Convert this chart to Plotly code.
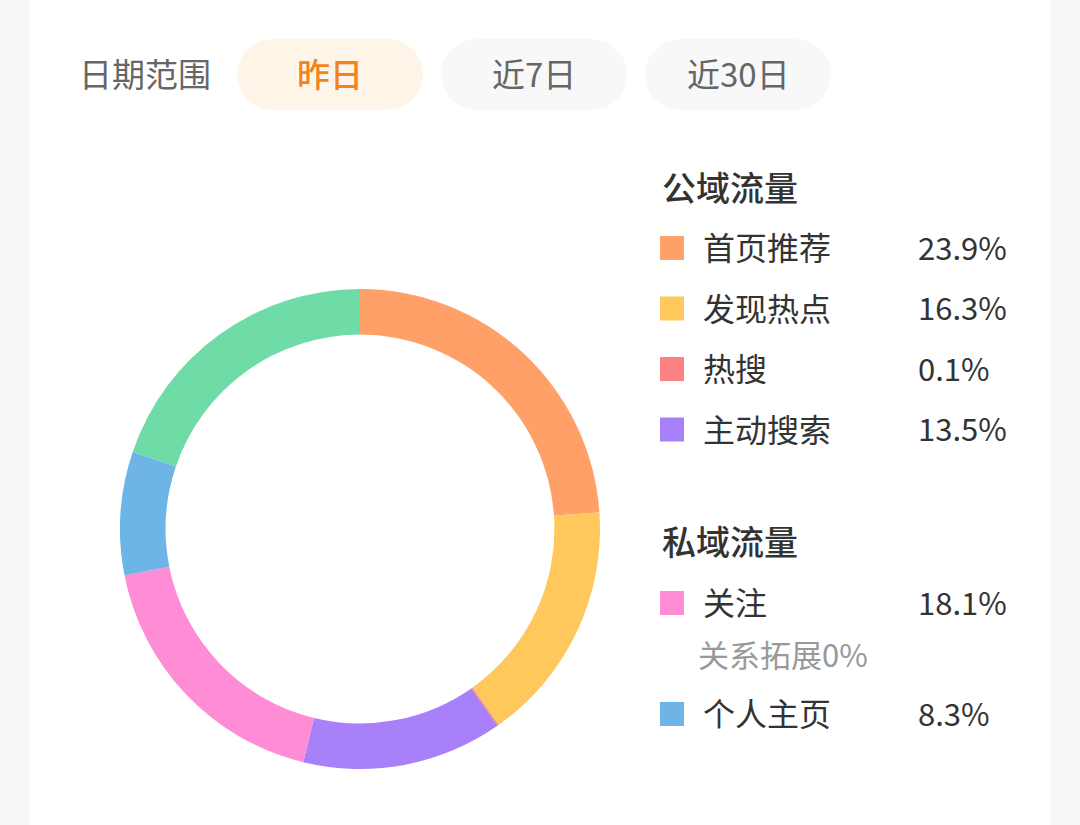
import plotly.graph_objects as go

# ---- data ----
segment_labels = ["首页推荐", "发现热点", "热搜", "主动搜索", "关注", "个人主页", "其他"]
segment_values = [23.9, 16.3, 0.1, 13.5, 18.1, 8.3, 19.8]
segment_colors = ["#FFA069", "#FFC85C", "#FF8080", "#A881FA", "#FF8DD6", "#6DB4E7", "#6FDBA6"]

public_labels = ["首页推荐", "发现热点", "热搜", "主动搜索"]
public_values = [23.9, 16.3, 0.1, 13.5]
private_labels = ["关注", "个人主页"]
private_values = [18.1, 8.3]
sub_label = "关系拓展"
sub_value = 0

range_title = "日期范围"
range_options = ["昨日", "近7日", "近30日"]
active_option = "昨日"

W, H = 1080, 825
FONT = "Noto Sans CJK SC"
DY = -2  # vertical text nudge

fig = go.Figure()

# donut
fig.add_trace(go.Pie(
    labels=segment_labels, values=segment_values,
    marker=dict(colors=segment_colors, line=dict(width=0)),
    hole=0.81, sort=False, direction="clockwise", rotation=0,
    textinfo="none", hoverinfo="label+percent", showlegend=False,
    domain=dict(x=[120 / W, 600 / W], y=[1 - 769 / H, 1 - 289 / H]),
))

shapes = []
annotations = []

# background card
shapes.append(dict(type="rect", xref="x", yref="y", x0=30, x1=1050, y0=0, y1=H,
                   fillcolor="#FFFFFF", line=dict(width=0), layer="below"))

# date range selector
annotations.append(dict(x=77, y=75 + DY, xref="x", yref="y", text=range_title, showarrow=False,
                        xanchor="left", yanchor="middle",
                        font=dict(family=FONT, size=33, color="#666666")))
pill_x = [(237, 423), (441, 627), (645, 831)]
py0, py1 = 39, 110
r = (py1 - py0) / 2
for (x0, x1), opt in zip(pill_x, range_options):
    active = opt == active_option
    fill = "#FFF4E8" if active else "#F8F8F8"
    shapes.append(dict(type="rect", xref="x", yref="y", x0=x0 + r, x1=x1 - r, y0=py0, y1=py1,
                       fillcolor=fill, line=dict(width=0), layer="below"))
    for cx in (x0 + r, x1 - r):
        shapes.append(dict(type="circle", xref="x", yref="y", x0=cx - r, x1=cx + r, y0=py0, y1=py1,
                           fillcolor=fill, line=dict(width=0), layer="below"))
    annotations.append(dict(x=(x0 + x1) / 2, y=75 + DY, xref="x", yref="y", text=opt, showarrow=False,
                            xanchor="center", yanchor="middle",
                            font=dict(family=FONT, size=33,
                                      color="#F0851A" if active else "#666666",
                                      weight=500 if active else "normal")))

color_of = dict(zip(segment_labels, segment_colors))


def header(text, y):
    annotations.append(dict(x=660, y=y + DY, xref="x", yref="y", text=text, showarrow=False,
                            xanchor="left", yanchor="middle",
                            font=dict(family=FONT, size=34, color="#333333", weight=500)))


def row(label, value, y):
    shapes.append(dict(type="rect", xref="x", yref="y", x0=660, x1=684, y0=y - 12, y1=y + 12,
                       fillcolor=color_of[label], line=dict(width=0)))
    annotations.append(dict(x=701, y=y + DY, xref="x", yref="y", text=label, showarrow=False,
                            xanchor="left", yanchor="middle",
                            font=dict(family=FONT, size=32, color="#333333")))
    annotations.append(dict(x=916, y=y + DY, xref="x", yref="y", text=f"{value}%", showarrow=False,
                            xanchor="left", yanchor="middle",
                            font=dict(family=FONT, size=31, color="#333333")))


header("公域流量", 188)
for i, (lab, val) in enumerate(zip(public_labels, public_values)):
    row(lab, val, 248 + i * 60.5)

header("私域流量", 542)
row(private_labels[0], private_values[0], 603)
annotations.append(dict(x=696, y=655 + DY, xref="x", yref="y", text=f"{sub_label}{sub_value}%",
                        showarrow=False, xanchor="left", yanchor="middle",
                        font=dict(family=FONT, size=31, color="#999999")))
row(private_labels[1], private_values[1], 714)

fig.update_layout(
    width=W, height=H, margin=dict(l=0, r=0, t=0, b=0),
    paper_bgcolor="#F7F7F7", plot_bgcolor="rgba(0,0,0,0)",
    xaxis=dict(range=[0, W], visible=False, fixedrange=True, domain=[0, 1]),
    yaxis=dict(range=[H, 0], visible=False, fixedrange=True, domain=[0, 1]),
    shapes=shapes, annotations=annotations, showlegend=False,
)

fig.write_html("out.html", config={"displayModeBar": False})
